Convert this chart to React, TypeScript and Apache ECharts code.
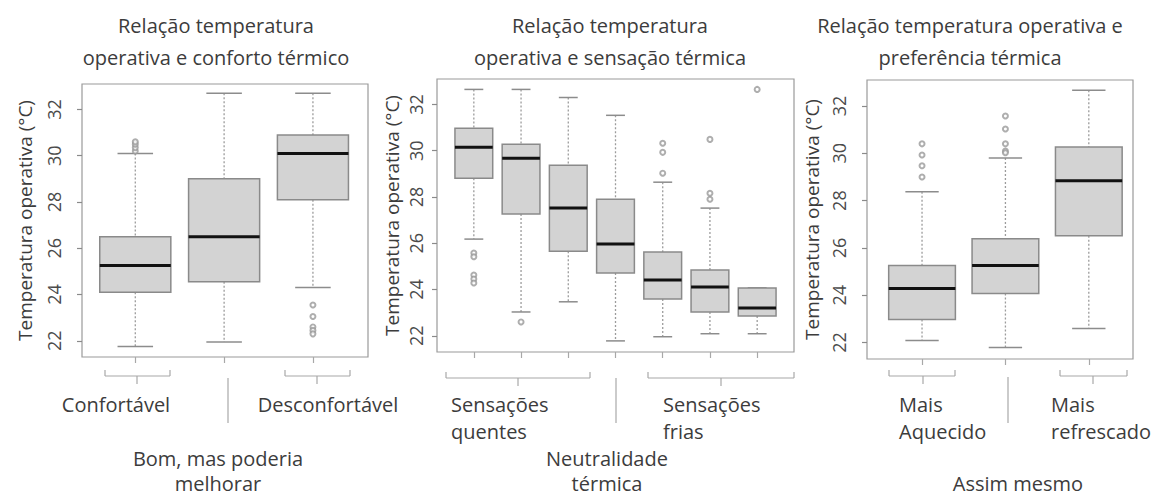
import React, { useEffect, useRef } from "react";
import * as echarts from "echarts";

// ---------- data ----------
const yTicks = [22, 24, 26, 28, 30, 32];
const yTitle = "Temperatura operativa (°C)";

const comfortTitle = "Relação temperatura\noperativa e conforto térmico";
const comfortLabels = ["Confortável", "Bom, mas poderia\nmelhorar", "Desconfortável"];
// [lower whisker, Q1, median, Q3, upper whisker]
const comfortStats = [
  [21.75, 24.1, 25.25, 26.5, 30.1],
  [21.95, 24.55, 26.5, 29.0, 32.7],
  [24.3, 28.1, 30.1, 30.9, 32.7],
];
// [box index, value]
const comfortOutliers = [
  [1, 30.2], [1, 30.35], [1, 30.5], [1, 30.6],
  [3, 23.55], [3, 23.05], [3, 22.6], [3, 22.45], [3, 22.3],
];

const sensationTitle = "Relação temperatura\noperativa e sensação térmica";
const sensationGroups = ["Sensações\nquentes", "Neutralidade\ntérmica", "Sensações\nfrias"];
const sensationStats = [
  [26.18, 28.81, 30.15, 30.97, 32.65],
  [23.03, 27.26, 29.67, 30.28, 32.65],
  [23.47, 25.66, 27.52, 29.37, 32.3],
  [21.78, 24.72, 25.97, 27.9, 31.53],
  [21.96, 23.59, 24.41, 25.62, 28.64],
  [22.09, 23.03, 24.11, 24.84, 27.52],
  [22.09, 22.86, 23.2, 24.07, 24.07],
];
const sensationOutliers = [
  [1, 25.58], [1, 25.42], [1, 24.63], [1, 24.45], [1, 24.28],
  [2, 22.6],
  [5, 30.32], [5, 29.93], [5, 29.03],
  [6, 30.49], [6, 28.16], [6, 27.9],
  [7, 32.65],
];

const preferenceTitle = "Relação temperatura operativa e\npreferência térmica";
const preferenceLabels = ["Mais\nAquecido", "Assim mesmo", "Mais\nrefrescado"];
const preferenceStats = [
  [22.08, 22.97, 24.28, 25.25, 28.37],
  [21.79, 24.07, 25.25, 26.39, 29.8],
  [22.59, 26.51, 28.84, 30.27, 32.67],
];
const preferenceOutliers = [
  [1, 30.4], [1, 29.93], [1, 29.47], [1, 29.0],
  [2, 31.58], [2, 31.03], [2, 30.4], [2, 30.1], [2, 30.02],
];

// ---------- styling / layout ----------
const FONT = '"Open Sans", "Noto Sans", sans-serif';
const TEXT = "#3c3c3c";
const GREY = "#a8a8a8";
const LABEL_SIZE = 20;

const panels = [
  { stats: comfortStats, outliers: comfortOutliers, title: comfortTitle, titleX: 216,
    grid: { left: 82, top: 84, width: 286, height: 273 }, xMin: 0.4, xMax: 3.62, labelMargin: 19, nameGap: 48 },
  { stats: sensationStats, outliers: sensationOutliers, title: sensationTitle, titleX: 610,
    grid: { left: 437, top: 79, width: 357, height: 273 }, xMin: 0.22, xMax: 7.78, labelMargin: 12, nameGap: 36 },
  { stats: preferenceStats, outliers: preferenceOutliers, title: preferenceTitle, titleX: 970,
    grid: { left: 867, top: 80, width: 266, height: 279 }, xMin: 0.34, xMax: 3.53, labelMargin: 19, nameGap: 46 },
];

const renderBox = (params: any, api: any) => {
  const x = api.value(0);
  const pLo = api.coord([x, api.value(1)]);
  const pQ1 = api.coord([x, api.value(2)]);
  const pMed = api.coord([x, api.value(3)]);
  const pQ3 = api.coord([x, api.value(4)]);
  const pHi = api.coord([x, api.value(5)]);
  const halfBox = api.size([0.8, 0])[0] / 2;
  const halfCap = api.size([0.4, 0])[0] / 2;
  const cx = pMed[0];
  const dash = { stroke: "#9c9c9c", lineWidth: 1.3, lineDash: [2, 2] };
  const cap = { stroke: "#8c8c8c", lineWidth: 1.5 };
  return {
    type: "group",
    children: [
      { type: "line", shape: { x1: cx, y1: pHi[1], x2: cx, y2: pQ3[1] }, style: dash },
      { type: "line", shape: { x1: cx, y1: pQ1[1], x2: cx, y2: pLo[1] }, style: dash },
      { type: "line", shape: { x1: cx - halfCap, y1: pHi[1], x2: cx + halfCap, y2: pHi[1] }, style: cap },
      { type: "line", shape: { x1: cx - halfCap, y1: pLo[1], x2: cx + halfCap, y2: pLo[1] }, style: cap },
      {
        type: "rect",
        shape: { x: cx - halfBox, y: pQ3[1], width: 2 * halfBox, height: pQ1[1] - pQ3[1] },
        style: { fill: "#d3d3d3", stroke: "#8a8a8a", lineWidth: 1.5 },
      },
      { type: "line", shape: { x1: cx - halfBox, y1: pMed[1], x2: cx + halfBox, y2: pMed[1] }, style: { stroke: "#111", lineWidth: 3 } },
    ],
  };
};

// text block: (x, y) is the top edge of the block
const txt = (text: string, x: number, y: number, align = "center", lineHeight = 27) => ({
  type: "text",
  x,
  y,
  silent: true,
  style: { text, align, verticalAlign: "top", fontSize: LABEL_SIZE, lineHeight, fontFamily: FONT, fill: TEXT },
});

const ln = (x1: number, y1: number, x2: number, y2: number) => ({
  type: "line",
  silent: true,
  shape: { x1, y1, x2, y2 },
  style: { stroke: GREY, lineWidth: 1.2 },
});

const bracket = (x1: number, x2: number, xc: number, y: number) => [
  ln(x1, y, x2, y),
  ln(x1, y - 6, x1, y),
  ln(x2, y - 6, x2, y),
  ln(xc, y, xc, y + 8),
];

export default function App() {
  const ref = useRef<HTMLDivElement>(null);

  useEffect(() => {
    if (!ref.current) return;
    const chart = echarts.init(ref.current, undefined, { renderer: "svg" });

    const grid = panels.map((p) => ({
      ...p.grid,
      show: true,
      borderColor: "#9a9a9a",
      borderWidth: 1.2,
      backgroundColor: "transparent",
      containLabel: false,
    }));

    const xAxis = panels.map((p, i) => ({
      type: "value",
      gridIndex: i,
      min: p.xMin,
      max: p.xMax,
      axisLine: { show: false },
      splitLine: { show: false },
      axisLabel: { show: false },
      axisTick: {
        show: true,
        customValues: p.stats.map((_, k) => k + 1),
        length: 6,
        lineStyle: { color: GREY, width: 1.2 },
      },
    }));

    const yAxis = panels.map((p, i) => ({
      type: "value",
      gridIndex: i,
      min: 21.3,
      max: 33.1,
      axisLine: { show: false },
      splitLine: { show: false },
      axisTick: { show: true, customValues: yTicks, length: 5, lineStyle: { color: "#8a8a8a", width: 1.2 } },
      axisLabel: {
        customValues: yTicks,
        rotate: 90,
        margin: p.labelMargin,
        fontSize: 18,
        color: "#4a4a4a",
        fontFamily: FONT,
      },
      name: yTitle,
      nameLocation: "middle",
      nameRotate: 90,
      nameGap: p.nameGap,
      nameTextStyle: { fontSize: 19, color: TEXT, fontFamily: FONT },
    }));

    const series: any[] = [];
    panels.forEach((p, i) => {
      series.push({
        type: "custom",
        xAxisIndex: i,
        yAxisIndex: i,
        renderItem: renderBox,
        encode: { x: 0, y: [1, 2, 3, 4, 5] },
        data: p.stats.map((s, k) => [k + 1, ...s]),
        silent: true,
      });
      series.push({
        type: "scatter",
        xAxisIndex: i,
        yAxisIndex: i,
        symbol: "emptyCircle",
        symbolSize: 5,
        itemStyle: { color: "#9a9a9a", borderColor: "#9a9a9a", borderWidth: 1.2 },
        data: p.outliers,
        silent: true,
      });
    });

    const title = panels.map((p) => ({
      text: p.title,
      left: p.titleX,
      top: 9,
      padding: 0,
      textAlign: "center",
      textStyle: { fontSize: 20, fontWeight: "normal", color: TEXT, fontFamily: FONT, lineHeight: 32 },
    }));

    const [c1, c2, c3] = [comfortLabels, sensationGroups, preferenceLabels];

    const graphic: any[] = [
      // panel 1
      ...bracket(105, 170, 137, 376),
      ...bracket(285, 350, 317, 376),
      ln(228, 378, 228, 423),
      txt(c1[0], 116, 391),
      txt(c1[2], 328, 391),
      txt(c1[1], 218, 446, "center", 25),
      // panel 2
      ...bracket(446, 590, 518, 378),
      ...bracket(648, 794, 721, 378),
      ln(616, 378, 616, 423),
      txt(c2[0], 451, 391, "left"),
      txt(c2[2], 663, 391, "left"),
      txt(c2[1], 607, 446, "center", 25),
      // panel 3
      ...bracket(889, 955, 923, 376),
      ...bracket(1060, 1127, 1093, 376),
      ln(1008, 377, 1008, 423),
      txt(c3[0], 899, 391, "left"),
      txt(c3[2], 1051, 391, "left"),
      txt(c3[1], 1018, 471, "center", 25),
    ];

    chart.setOption({
      animation: false,
      backgroundColor: "#ffffff",
      title,
      grid,
      xAxis,
      yAxis,
      series,
      graphic,
    });

    return () => chart.dispose();
  }, []);

  return (
    <div
      ref={ref}
      style={{ position: "fixed", left: 0, top: 0, width: 1153, height: 497 }}
    />
  );
}
